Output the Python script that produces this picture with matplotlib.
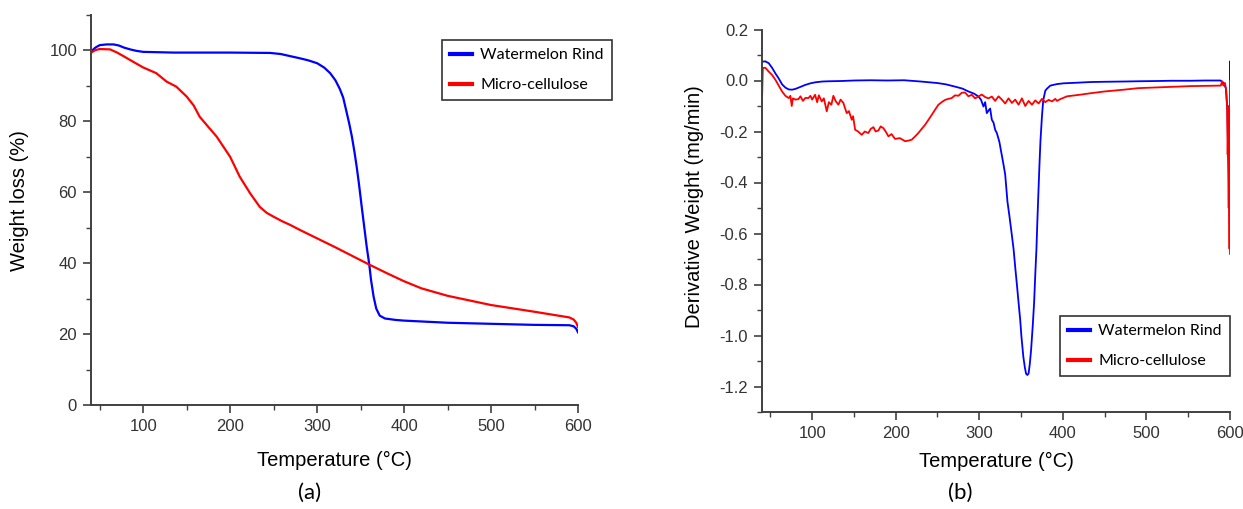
import numpy as np
import matplotlib
matplotlib.use('Agg')
import matplotlib.pyplot as plt
from matplotlib.ticker import MultipleLocator, FormatStrFormatter
from matplotlib.lines import Line2D

# (a) TGA curves: temperature (C) vs weight (%)
tga_rind_t = [40, 45, 50, 58, 66, 72, 78, 85, 92, 100, 135, 200, 246, 258, 269, 280, 290, 300,
              308, 315, 321, 326, 330, 334, 337, 340, 343, 345.5, 348, 351.3, 354, 357, 360,
              362, 365, 368, 372, 378, 390, 400, 450, 500, 550, 590, 595, 598, 600]
tga_rind_w = [99.7, 100.8, 101.5, 101.7, 101.7, 101.4, 100.8, 100.3, 99.9, 99.6, 99.4, 99.4,
              99.3, 99, 98.4, 97.8, 97.2, 96.4, 95.2, 93.6, 91.6, 89.2, 86.7, 82.5, 79.3,
              75.7, 71.3, 67.2, 62.6, 55.9, 50.6, 44.7, 39.6, 35.3, 30.5, 27.2, 25.2, 24.4,
              24.0, 23.8, 23.2, 22.9, 22.6, 22.5, 22.2, 21.5, 20.5]

tga_mc_t = [40, 45, 50, 62, 70, 78, 85, 100, 115, 127, 138, 150, 158, 165, 175, 184.5, 200,
            211, 223, 234, 242, 250, 260, 269, 280, 300, 320, 340, 360, 380, 400, 420, 450,
            500, 550, 590, 595, 598, 600]
tga_mc_w = [99.4, 100.1, 100.4, 100.3, 99.4, 98.3, 97.3, 95.2, 93.6, 91.2, 89.8, 87, 84.5,
            81.3, 78.4, 75.7, 70, 64.4, 59.7, 55.9, 54.2, 53.1, 51.8, 50.8, 49.4, 47, 44.6,
            42.1, 39.6, 37.2, 34.9, 32.9, 30.8, 28.2, 26.3, 24.7, 24.1, 23.2, 22]

# (b) DTG curves: temperature (C) vs derivative weight (mg/min)
dtg_rind_t = [40, 44, 48, 52, 56, 60, 64, 68, 72, 76,
              80, 86, 92, 98, 104, 112, 120, 135, 150, 170,
              190, 210, 230, 250, 260, 271, 280, 287, 294, 299,
              302, 305, 307, 309, 311, 313, 315, 317, 319, 321,
              324, 326, 329, 331, 333.7, 336, 338.5, 341, 343.2, 345,
              347, 349, 350.4, 352.7, 354.5, 356, 357.5, 359, 360.5, 362,
              364, 365.6, 367, 368.4, 369.5, 370.8, 372, 373.2, 375, 376.5,
              379, 381, 385, 393, 401, 415, 433, 450, 473, 490,
              513, 530, 553, 570, 588.6, 592.6, 595, 597, 598, 598.5,
              599, 599.3, 599.6, 599.8, 600, 600]
dtg_rind_v = [0.074, 0.075, 0.068, 0.05, 0.028, 0.008, -0.015, -0.028, -0.035, -0.036,
              -0.033, -0.025, -0.017, -0.011, -0.007, -0.004, -0.003, -0.002, 0.0, 0.001,
              0.0, 0.001, -0.004, -0.01, -0.015, -0.024, -0.032, -0.043, -0.052, -0.063,
              -0.075, -0.102, -0.085, -0.128, -0.118, -0.11, -0.154, -0.165, -0.193, -0.206,
              -0.24, -0.276, -0.33, -0.369, -0.475, -0.53, -0.594, -0.66, -0.739, -0.8,
              -0.871, -0.94, -1.003, -1.083, -1.125, -1.15, -1.155, -1.149, -1.11, -1.056,
              -0.96, -0.871, -0.76, -0.66, -0.55, -0.435, -0.33, -0.237, -0.14, -0.078,
              -0.04, -0.032, -0.02, -0.014, -0.011, -0.009, -0.006, -0.005, -0.004, -0.003,
              -0.002, -0.001, -0.001, 0.0, 0.0, -0.01, -0.03, -0.12, -0.35, -0.5,
              -0.25, -0.45, -0.1, -0.3, 0.075, -0.24]

dtg_mc_t = [40, 41, 44, 48, 52, 56, 60, 64, 68, 72,
            74, 75.6, 77, 80, 83.6, 86, 89, 92, 95.5, 98,
            100, 103.5, 106, 108, 111.5, 114, 117.5, 120, 123, 125.4,
            128, 131.4, 134, 137.4, 139, 141.4, 144, 147.4, 149, 151.4,
            155, 159.4, 163, 167.3, 170, 173.3, 176, 179.3, 182, 185.3,
            188, 191.3, 195, 199.2, 205, 211.2, 215, 219.2, 223, 227.1,
            231, 235.1, 239, 243.1, 247, 251.1, 255, 259.1, 263, 267,
            271, 275, 279, 283, 287, 291, 295, 299, 303, 307,
            311, 315, 319, 323, 327, 331, 335, 339, 343, 347,
            351, 355, 359, 363, 367, 371, 375, 379, 383, 387,
            391, 393, 397, 405, 420, 433, 450, 473, 490, 513,
            530, 553, 570, 587, 589, 590.5, 592, 594, 595.5, 596.5,
            597.2, 597.8, 598.4, 599, 599.4, 599.7, 600, 600, 600]
dtg_mc_v = [-0.08, 0.049, 0.05, 0.035, 0.022, 0.003, -0.02, -0.043, -0.06, -0.069,
            -0.06, -0.1, -0.07, -0.075, -0.073, -0.062, -0.08, -0.068, -0.069, -0.06,
            -0.075, -0.056, -0.085, -0.058, -0.082, -0.07, -0.121, -0.085, -0.095, -0.06,
            -0.08, -0.095, -0.075, -0.088, -0.105, -0.128, -0.12, -0.154, -0.14, -0.193,
            -0.2, -0.213, -0.2, -0.206, -0.19, -0.183, -0.2, -0.196, -0.18, -0.187,
            -0.2, -0.219, -0.21, -0.229, -0.226, -0.238, -0.236, -0.232, -0.22, -0.206,
            -0.19, -0.174, -0.155, -0.135, -0.115, -0.095, -0.085, -0.076, -0.072, -0.069,
            -0.058, -0.06, -0.048, -0.047, -0.062, -0.056, -0.07, -0.063, -0.055, -0.065,
            -0.07, -0.063, -0.08, -0.062, -0.075, -0.09, -0.07, -0.088, -0.075, -0.095,
            -0.07, -0.1, -0.08, -0.095, -0.078, -0.09, -0.072, -0.085, -0.076, -0.082,
            -0.072, -0.08, -0.073, -0.062, -0.056, -0.05, -0.043, -0.036, -0.03, -0.027,
            -0.025, -0.022, -0.021, -0.02, -0.02, -0.003, -0.02, -0.01, -0.04, -0.1,
            -0.29, -0.18, -0.1, -0.45, -0.66, -0.3, -0.5, 0.0, -0.68]

series_labels = ['Watermelon Rind', 'Micro-cellulose']
series_colors = ['#0000ff', '#ff0000']

plt.rcParams['font.family'] = ['Liberation Sans', 'DejaVu Sans']
plt.rcParams['axes.unicode_minus'] = False

fig = plt.figure(figsize=(12.43, 5.09), dpi=100)
W, H = 1243, 509

ax1 = fig.add_axes([91 / W, 1 - 405 / H, (578 - 91) / W, (405 - 15) / H])
ax2 = fig.add_axes([762 / W, 1 - 412 / H, (1230 - 762) / W, (412 - 29.5) / H])

ax1.plot(tga_rind_t, tga_rind_w, color=series_colors[0], lw=1.6)
ax1.plot(tga_mc_t, tga_mc_w, color=series_colors[1], lw=1.6)
ax2.plot(dtg_rind_t, dtg_rind_v, color=series_colors[0], lw=1.3)
ax2.plot(dtg_mc_t, dtg_mc_v, color=series_colors[1], lw=1.3)

ax1.set_xlim(40, 600)
ax1.set_ylim(0, 110)
ax1.yaxis.set_major_locator(MultipleLocator(20))
ax1.yaxis.set_minor_locator(MultipleLocator(10))

ax2.set_xlim(40, 600)
ax2.set_ylim(-1.3, 0.2)
ax2.yaxis.set_major_locator(MultipleLocator(0.2))
ax2.yaxis.set_minor_locator(MultipleLocator(0.1))
ax2.yaxis.set_major_formatter(FormatStrFormatter('%.1f'))

for ax in (ax1, ax2):
    ax.xaxis.set_major_locator(MultipleLocator(100))
    ax.xaxis.set_minor_locator(MultipleLocator(50))
    for s in ('top', 'right'):
        ax.spines[s].set_visible(False)
    for s in ('left', 'bottom'):
        ax.spines[s].set_color('#404040')
        ax.spines[s].set_linewidth(1.4)
    ax.tick_params(which='major', direction='out', length=6, width=1.2, color='#404040',
                   labelsize=12, labelcolor='#333333', pad=4)
    ax.tick_params(which='minor', direction='out', length=3.5, width=1.0, color='#404040')

ax1.set_xlabel('Temperature (°C)', fontsize=14.5, labelpad=12)
ax2.set_xlabel('Temperature (°C)', fontsize=14.5, labelpad=8)
ax1.set_ylabel('Weight loss (%)', fontsize=14.5)
ax2.set_ylabel('Derivative Weight (mg/min)', fontsize=14.5)
# label x is the right edge of the rotated text
ax1.yaxis.set_label_coords((29 - 91) / (578 - 91), 0.523)
ax2.yaxis.set_label_coords((704 - 762) / (1230 - 762), 0.536)

handles = [Line2D([], [], color=c, lw=3) for c in series_colors]
leg_font = {'family': ['Lato', 'DejaVu Sans'], 'size': 11.5}
for anchor in [(442 / W, 1 - 40 / H), (1060 / W, 1 - 316 / H)]:
    leg = fig.legend(handles, series_labels, loc='upper left', bbox_to_anchor=anchor,
                     frameon=True, fancybox=False, edgecolor='black', prop=leg_font,
                     handlelength=1.35, handletextpad=0.55, labelspacing=1.0, borderpad=0.5,
                     borderaxespad=0)
    leg.get_frame().set_linewidth(1.2)

fig.text(310 / W, 1 - 493 / H, '(a)', ha='center', va='center', fontsize=16,
         family=['Lato', 'DejaVu Sans'])
fig.text(960 / W, 1 - 493 / H, '(b)', ha='center', va='center', fontsize=16,
         family=['Lato', 'DejaVu Sans'])

fig.savefig('out.png', dpi=100)
